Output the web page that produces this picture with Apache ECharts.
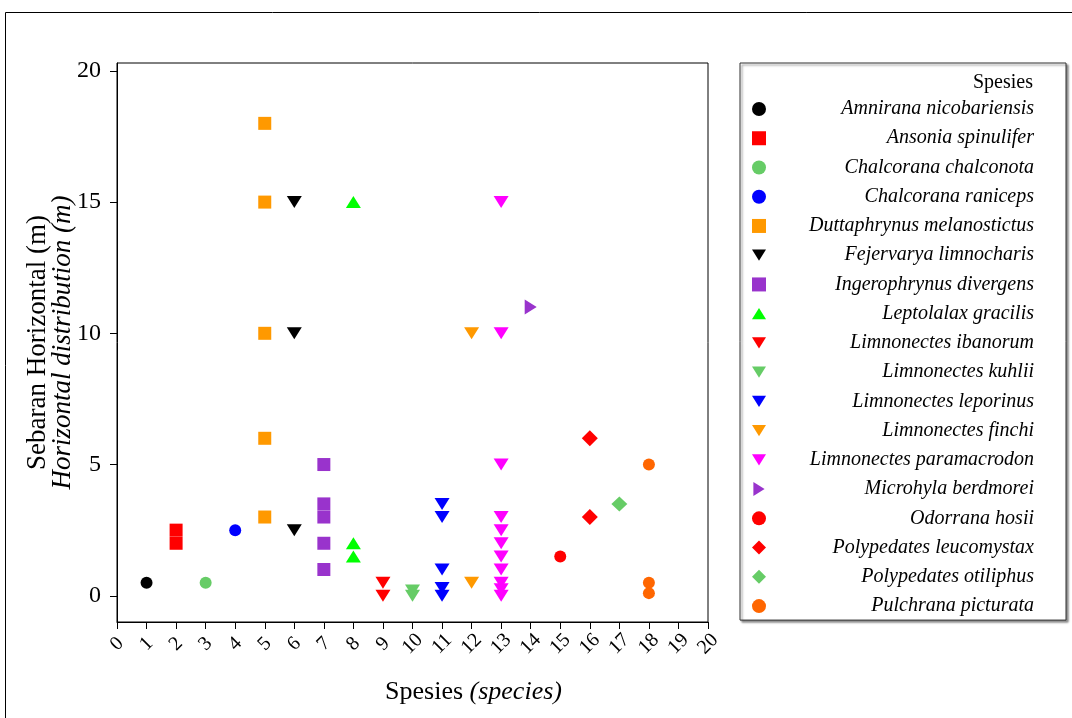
<!DOCTYPE html>
<html>
<head>
<meta charset="utf-8">
<script src="https://cdn.jsdelivr.net/npm/echarts@6/dist/echarts.min.js"></script>
<style>
  html, body { margin: 0; padding: 0; background: #fff; }
  #chart { width: 1072px; height: 718px; }
</style>
</head>
<body>
<div id="chart"></div>
<script>
// ---- Data ----
const speciesNames = [
  'Amnirana nicobariensis',
  'Ansonia spinulifer',
  'Chalcorana chalconota',
  'Chalcorana raniceps',
  'Duttaphrynus melanostictus',
  'Fejervarya limnocharis',
  'Ingerophrynus divergens',
  'Leptolalax gracilis',
  'Limnonectes ibanorum',
  'Limnonectes kuhlii',
  'Limnonectes leporinus',
  'Limnonectes finchi',
  'Limnonectes paramacrodon',
  'Microhyla berdmorei',
  'Odorrana hosii',
  'Polypedates leucomystax',
  'Polypedates otiliphus',
  'Pulchrana picturata'
];
const speciesX = [1, 2, 3, 4, 5, 6, 7, 8, 9, 10, 11, 12, 13, 14, 15, 16, 17, 18];
const horizontalDistance = [
  [0.5],
  [2.5, 2],
  [0.5],
  [2.5],
  [18, 15, 10, 6, 3],
  [15, 10, 2.5],
  [5, 3.5, 3, 2, 1],
  [15, 2, 1.5],
  [0.5, 0],
  [0.2, 0],
  [3.5, 3, 1, 0.3, 0],
  [10, 0.5],
  [15, 10, 5, 3, 2.5, 2, 1.5, 1, 0.5, 0.25, 0],
  [11],
  [1.5],
  [6, 3],
  [3.5],
  [5, 0.5, 0.1]
];
const xTicks = [0, 1, 2, 3, 4, 5, 6, 7, 8, 9, 10, 11, 12, 13, 14, 15, 16, 17, 18, 19, 20];
const yTicks = [0, 5, 10, 15, 20];

// ---- Styles ----
const SERIF = 'Liberation Serif';
const DOWN = 'path://M0,0 L10,0 L5,8 Z';
const UP = 'path://M5,0 L10,8 L0,8 Z';
const RIGHT = 'path://M0,0 L8,5 L0,10 Z';
const styles = [
  { color: '#000000', symbol: 'circle', size: 12 },
  { color: '#ff0000', symbol: 'rect', size: 13 },
  { color: '#66cc66', symbol: 'circle', size: 12 },
  { color: '#0000ff', symbol: 'circle', size: 12 },
  { color: '#ff9900', symbol: 'rect', size: 13 },
  { color: '#000000', symbol: DOWN, size: [15, 12] },
  { color: '#9933cc', symbol: 'rect', size: 13 },
  { color: '#00ff00', symbol: UP, size: [15, 12] },
  { color: '#ff0000', symbol: DOWN, size: [15, 12] },
  { color: '#66cc66', symbol: DOWN, size: [15, 12] },
  { color: '#0000ff', symbol: DOWN, size: [15, 12] },
  { color: '#ff9900', symbol: DOWN, size: [15, 12] },
  { color: '#ff00ff', symbol: DOWN, size: [15, 12] },
  { color: '#9933cc', symbol: RIGHT, size: [12, 15] },
  { color: '#ff0000', symbol: 'circle', size: 12 },
  { color: '#ff0000', symbol: 'diamond', size: 16 },
  { color: '#66cc66', symbol: 'diamond', size: [16, 15] },
  { color: '#ff6600', symbol: 'circle', size: 12 }
];

const series = speciesNames.map((name, i) => ({
  name: name,
  type: 'scatter',
  symbol: styles[i].symbol,
  symbolSize: styles[i].size,
  itemStyle: { color: styles[i].color, opacity: 1 },
  emphasis: { disabled: true },
  data: horizontalDistance[i].map(v => [speciesX[i], v])
}));

const chart = echarts.init(document.getElementById('chart'), null, { renderer: 'canvas' });
chart.setOption({
  animation: false,
  backgroundColor: '#ffffff',
  textStyle: { fontFamily: SERIF },
  graphic: [{
    type: 'rect',
    silent: true,
    z: 0,
    shape: { x: 5.5, y: 12.5, width: 1200, height: 800 },
    style: { fill: 'none', stroke: '#000', lineWidth: 1 }
  }],
  title: {
    text: 'Spesies',
    right: 39,
    top: 73,
    z: 10,
    padding: 0,
    textStyle: { fontFamily: SERIF, fontSize: 20, fontWeight: 'normal', color: '#000' }
  },
  legend: {
    orient: 'vertical',
    left: 740,
    top: 63,
    padding: [36, 32, 4, 12],
    itemGap: 9.24,
    itemWidth: 14,
    itemHeight: 14,
    itemTextGap: 5,
    borderColor: '#333',
    borderWidth: 1,
    backgroundColor: '#fff',
    shadowColor: 'rgba(0,0,0,0.45)',
    shadowBlur: 2,
    shadowOffsetX: 2,
    shadowOffsetY: 2,
    selectedMode: false,
    data: speciesNames,
    formatter: name => '{n|' + name + '}',
    textStyle: {
      fontFamily: SERIF,
      fontStyle: 'italic',
      fontSize: 20,
      color: '#000',
      rich: {
        n: { width: 263, align: 'right', fontFamily: SERIF, fontStyle: 'italic', fontSize: 20, lineHeight: 20, color: '#000' }
      }
    }
  },
  grid: {
    left: 117,
    right: 364,
    top: 63,
    bottom: 96,
    show: true,
    borderColor: '#000',
    borderWidth: 1,
    backgroundColor: '#fff'
  },
  xAxis: {
    type: 'value',
    min: 0,
    max: 20,
    interval: 1,
    name: '{a|Spesies }{b|(species)}',
    nameLocation: 'middle',
    nameGap: 57,
    nameMoveOverlap: false,
    nameTextStyle: {
      padding: [0, 0, 0, 122],
      rich: {
        a: { fontFamily: SERIF, fontSize: 26, color: '#000' },
        b: { fontFamily: SERIF, fontSize: 26, fontStyle: 'italic', color: '#000' }
      }
    },
    splitLine: { show: false },
    axisLine: { onZero: false, lineStyle: { color: '#000', width: 1 } },
    axisTick: { length: 7, lineStyle: { color: '#000' } },
    axisLabel: {
      rotate: 45,
      align: 'center',
      verticalAlign: 'middle',
      margin: 22,
      fontFamily: SERIF,
      fontSize: 20,
      color: '#000',
      formatter: v => String(xTicks[v])
    }
  },
  yAxis: {
    type: 'value',
    min: -1,
    max: 20.3,
    name: '{a|Sebaran Horizontal (m)}\n{b|Horizontal distribution (m)}',
    nameLocation: 'middle',
    nameRotate: 90,
    nameGap: 42,
    nameMoveOverlap: false,
    nameTextStyle: {
      align: 'center',
      rich: {
        a: { fontFamily: SERIF, fontSize: 27, lineHeight: 25, color: '#000', align: 'center' },
        b: { fontFamily: SERIF, fontSize: 27, lineHeight: 25, fontStyle: 'italic', color: '#000', align: 'center' }
      }
    },
    splitLine: { show: false },
    axisLine: { onZero: false, lineStyle: { color: '#000', width: 1 } },
    axisTick: { length: 7, customValues: yTicks, lineStyle: { color: '#000' } },
    axisLabel: {
      customValues: yTicks,
      margin: 16,
      fontFamily: SERIF,
      fontSize: 24,
      color: '#000'
    }
  },
  series: series
});
</script>
</body>
</html>
